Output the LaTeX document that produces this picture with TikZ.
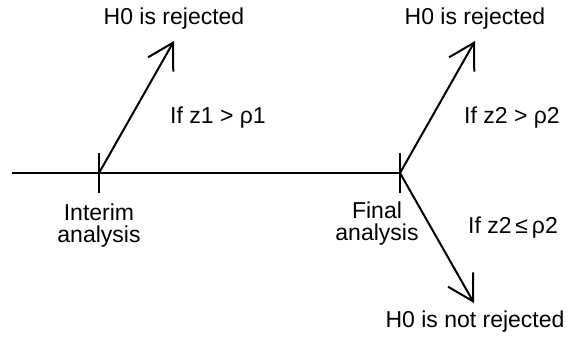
\documentclass[tikz,border=0pt]{standalone}
\usepackage{fontspec}
\setmainfont{Liberation Sans}
\usetikzlibrary{arrows.meta}

\tikzset{
  label text/.style={font=\fontsize{23}{22}\selectfont, align=center, inner sep=0pt},
  time line/.style={line width=2pt},
  decision/.style={line width=2pt, -{Straight Barb[length=25pt,width=29pt,line width=2pt]}}
}

\begin{document}
\begin{tikzpicture}[x=1pt,y=-1pt]
	\useasboundingbox (0,0) rectangle (568,338);
	% time axis with the two analyses
	\coordinate (start) at (12,173);
	\coordinate (interim) at (99,173);
	\coordinate (final) at (400,173);
	\draw[time line] (start) -- (final);
	\draw[time line] (interim) ++(0,-20) -- ++(0,40);
	\draw[time line] (final) ++(0,-20) -- ++(0,40);
	% arrow ends
	\coordinate (tip1) at (174,41);
	\coordinate (tip2) at (475,41);
	\coordinate (tip3) at (474,303);
	\draw[decision] (interim) -- (tip1);
	\draw[decision] (final) -- (tip2);
	\draw[decision] (final) -- (tip3);
	% labels
	\node[label text] (rej1) at (174,19) {H0 is rejected};
	\node[label text] (rej2) at (475,19) {H0 is rejected};
	\node[label text] (norej) at (475,322) {H0 is not rejected};
	\node[label text] (cond1) at (218,118) {If z1 > ρ1};
	\node[label text] (cond2) at (512,118) {If z2 > ρ2};
	\node[label text] (cond3) at (513,228) {If z2\,≤\,ρ2};
	\node[label text] (interimlbl) at (99,226) {Interim\\analysis};
	\node[label text] (finallbl) at (377,224) {Final\\analysis};
\end{tikzpicture}
\end{document}
